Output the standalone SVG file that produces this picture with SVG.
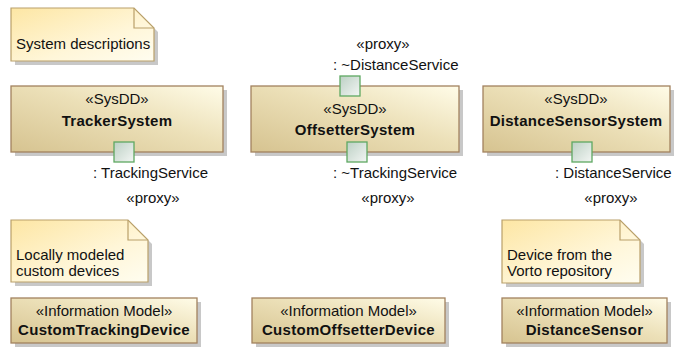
<svg xmlns="http://www.w3.org/2000/svg" width="678" height="358" viewBox="0 0 678 358">
<defs>
<linearGradient id="gBox" x1="0" y1="1" x2="1" y2="0">
<stop offset="0" stop-color="#d6c390"/>
<stop offset="0.55" stop-color="#ece0b8"/>
<stop offset="1" stop-color="#fffce8"/>
</linearGradient>
<linearGradient id="gNote" x1="0" y1="0" x2="1" y2="1">
<stop offset="0" stop-color="#fde6a4"/>
<stop offset="0.6" stop-color="#fff6d8"/>
<stop offset="1" stop-color="#fffdf0"/>
</linearGradient>
<linearGradient id="gPort" x1="0" y1="0" x2="1" y2="1">
<stop offset="0" stop-color="#bcd0c4"/>
<stop offset="1" stop-color="#f3f6f4"/>
</linearGradient>
</defs>
<style>
.box{fill:url(#gBox);stroke:#a2825f;stroke-width:1.3}
.note{fill:url(#gNote);stroke:#b9a06a;stroke-width:1.2}
.fold{fill:none;stroke:#b9a06a;stroke-width:1.2}
.sh{fill:#9a9a9a;opacity:0.55}
.port{fill:url(#gPort);stroke:#5ea862;stroke-width:1.3}
text{font-family:"Liberation Sans",Arial,sans-serif;font-size:15px;fill:#111}
.c{text-anchor:middle}
.b{font-weight:bold;letter-spacing:0.3px}
</style>

<g id="note-system">
<path class="sh" d="M15,12 H138 L158,32 V65 H15 Z"/>
<path class="note" d="M11,8 H134 L154,28 V61 H11 Z"/>
<path class="fold" d="M134,8 V28 H154"/>
<text x="16" y="49">System descriptions</text>
</g>

<g id="TrackerSystem">
<rect class="sh" x="15" y="90" width="212" height="66"/>
<rect class="box" x="11" y="86" width="212" height="66"/>
<text class="c" x="117" y="104">«SysDD»</text>
<text class="c b" x="117" y="126">TrackerSystem</text>
<rect class="port" x="114" y="142" width="20" height="20"/>
<text x="93" y="178">: TrackingService</text>
<text class="c" x="153" y="203">«proxy»</text>
</g>

<g id="OffsetterSystem">
<rect class="sh" x="255" y="90" width="208" height="66"/>
<rect class="box" x="251" y="86" width="208" height="66"/>
<text class="c" x="355" y="114">«SysDD»</text>
<text class="c b" x="355" y="135">OffsetterSystem</text>
<rect class="port" x="340" y="76" width="20" height="20"/>
<rect class="port" x="347" y="142" width="20" height="20"/>
<text class="c" x="383" y="49">«proxy»</text>
<text x="333" y="70">: ~DistanceService</text>
<text x="333" y="178">: ~TrackingService</text>
<text class="c" x="388" y="203">«proxy»</text>
</g>

<g id="DistanceSensorSystem">
<rect class="sh" x="487" y="90" width="187" height="66"/>
<rect class="box" x="483" y="86" width="187" height="66"/>
<text class="c" x="576" y="104">«SysDD»</text>
<text class="c b" x="576" y="126">DistanceSensorSystem</text>
<rect class="port" x="572" y="142" width="20" height="20"/>
<text x="555" y="178">: DistanceService</text>
<text class="c" x="611" y="203">«proxy»</text>
</g>

<g id="note-local">
<path class="sh" d="M15,224 H132 L152,244 V286 H15 Z"/>
<path class="note" d="M11,220 H128 L148,240 V282 H11 Z"/>
<path class="fold" d="M128,220 V240 H148"/>
<text x="16" y="260">Locally modeled</text>
<text x="16" y="276">custom devices</text>
</g>

<g id="note-vorto">
<path class="sh" d="M506,224 H624 L644,244 V287 H506 Z"/>
<path class="note" d="M502,220 H620 L640,240 V283 H502 Z"/>
<path class="fold" d="M620,220 V240 H640"/>
<text x="507" y="260">Device from the</text>
<text x="507" y="276">Vorto repository</text>
</g>

<g id="CustomTrackingDevice">
<rect class="sh" x="15" y="302" width="186" height="45"/>
<rect class="box" x="11" y="298" width="186" height="45"/>
<text class="c" x="104" y="316">«Information Model»</text>
<text class="c b" x="104" y="335">CustomTrackingDevice</text>
</g>

<g id="CustomOffsetterDevice">
<rect class="sh" x="256" y="302" width="193" height="45"/>
<rect class="box" x="252" y="298" width="193" height="45"/>
<text class="c" x="348.5" y="316">«Information Model»</text>
<text class="c b" x="348.5" y="335">CustomOffsetterDevice</text>
</g>

<g id="DistanceSensor">
<rect class="sh" x="506" y="302" width="165" height="45"/>
<rect class="box" x="502" y="298" width="165" height="45"/>
<text class="c" x="584.5" y="316">«Information Model»</text>
<text class="c b" x="584.5" y="335">DistanceSensor</text>
</g>

<g id="connectors"/>
</svg>
